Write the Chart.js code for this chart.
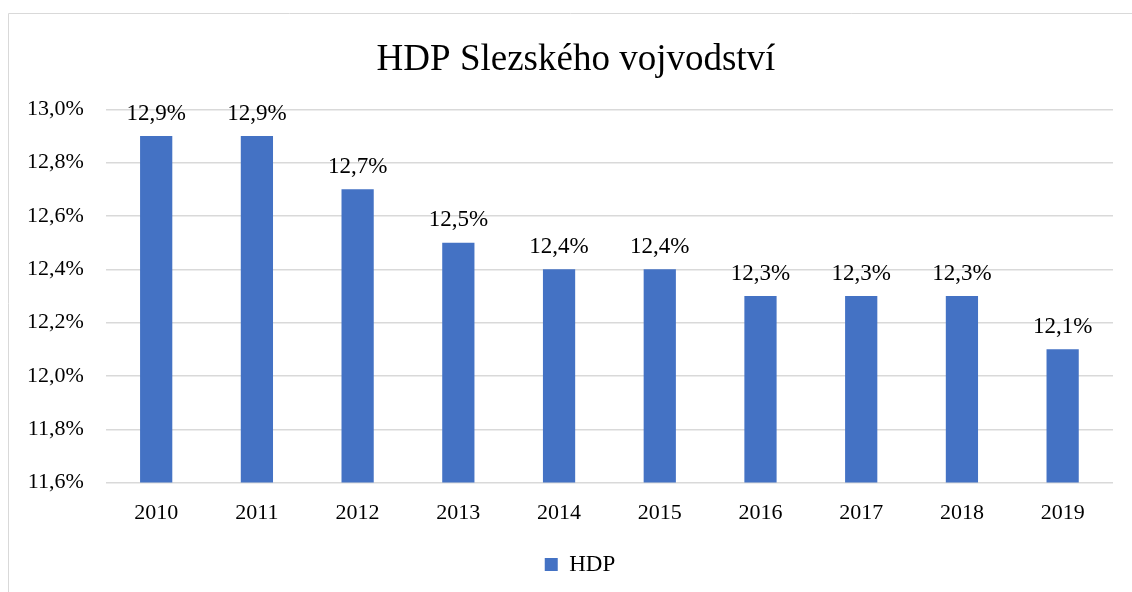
<!DOCTYPE html>
<html>
<head>
<meta charset="utf-8">
<script src="https://cdn.jsdelivr.net/npm/chart.js@4"></script>
<style>
  html, body { margin: 0; padding: 0; background: #fff; }
  #wrap { width: 1132px; height: 592px; position: relative; }
</style>
</head>
<body>
<div id="wrap"><canvas id="chart"></canvas></div>
<script>
const years = ['2010', '2011', '2012', '2013', '2014', '2015', '2016', '2017', '2018', '2019'];
const hdp = [12.9, 12.9, 12.7, 12.5, 12.4, 12.4, 12.3, 12.3, 12.3, 12.1];
const yMin = 11.6;
const yMax = 13.0;
const yStep = 0.2;

const serif = '"Liberation Serif", "Times New Roman", serif';
const fmt = v => v.toFixed(1).replace('.', ',') + '%';

// frame, value labels, title + legend nudged a bit right like the original
const extras = {
  id: 'extras',
  afterLayout(chart) {
    chart.legend.left += 42;
    chart.titleBlock.left += 34;
  },
  beforeDraw(chart) {
    const ctx = chart.ctx;
    ctx.save();
    ctx.strokeStyle = '#d9d9d9';
    ctx.lineWidth = 1;
    ctx.beginPath();
    ctx.moveTo(8.5, 600);
    ctx.lineTo(8.5, 13.5);
    ctx.lineTo(1140, 13.5);
    ctx.stroke();
    ctx.restore();
  },
  afterDatasetsDraw(chart) {
    const ctx = chart.ctx;
    const meta = chart.getDatasetMeta(0);
    ctx.save();
    ctx.font = '23px ' + serif;
    ctx.fillStyle = '#000';
    ctx.textAlign = 'center';
    ctx.textBaseline = 'bottom';
    meta.data.forEach((bar, i) => {
      ctx.fillText(fmt(hdp[i]), bar.x, bar.y - 11);
    });
    ctx.restore();
  }
};

new Chart(document.getElementById('chart'), {
  type: 'bar',
  data: {
    labels: years,
    datasets: [{
      label: 'HDP',
      data: hdp,
      backgroundColor: '#4472c4',
      barPercentage: 0.32,
      categoryPercentage: 1
    }]
  },
  options: {
    responsive: true,
    maintainAspectRatio: false,
    animation: false,
    layout: { padding: { left: 5, right: 19, top: 38, bottom: 6 } },
    plugins: {
      title: {
        display: true,
        text: 'HDP Slezského vojvodství',
        color: '#000',
        font: { family: serif, size: 37, weight: 'normal' },
        padding: { top: 0, bottom: 27 }
      },
      legend: {
        position: 'bottom',
        labels: {
          color: '#000',
          font: { family: serif, size: 23 },
          boxWidth: 13,
          boxHeight: 13,
          padding: 18
        }
      },
      tooltip: { enabled: false }
    },
    scales: {
      x: {
        grid: { display: false },
        border: { display: false },
        ticks: { color: '#000', font: { family: serif, size: 22 }, padding: 9 }
      },
      y: {
        min: yMin,
        max: yMax,
        grid: { color: '#d9d9d9', lineWidth: 1.5, drawTicks: false },
        border: { display: false },
        ticks: {
          stepSize: yStep,
          color: '#000',
          font: { family: serif, size: 22 },
          padding: 22,
          callback: v => fmt(v)
        }
      }
    }
  },
  plugins: [extras]
});
</script>
</body>
</html>
